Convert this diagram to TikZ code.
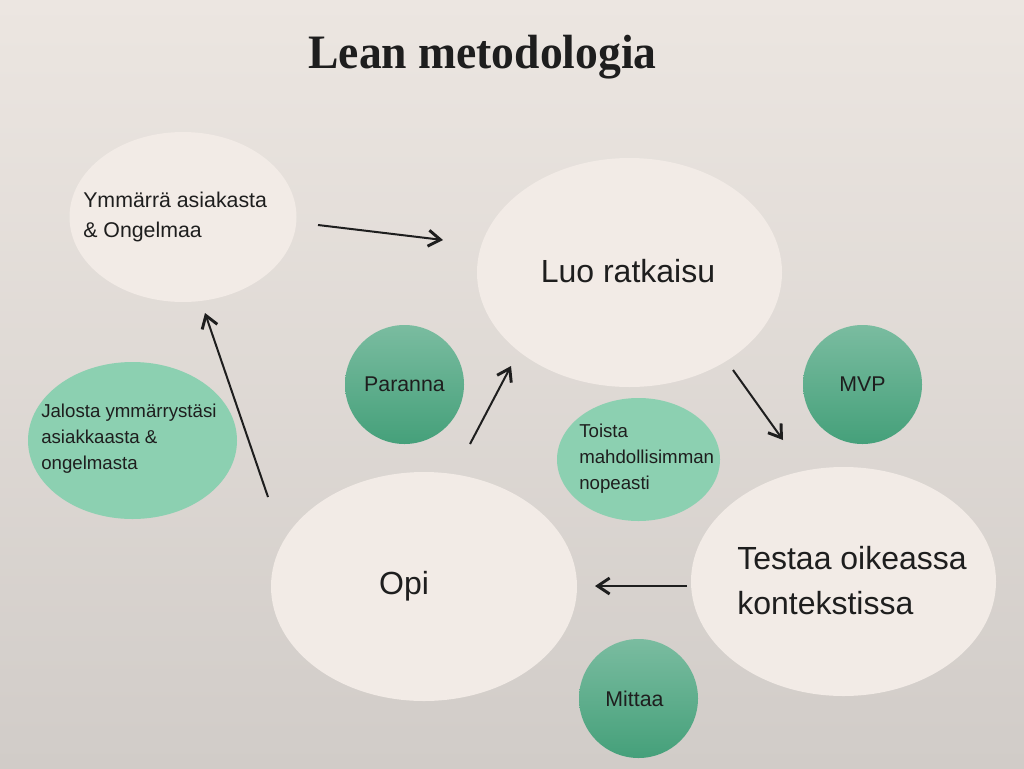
\documentclass[tikz,border=0pt]{standalone}
\usepackage{graphicx}
\usepackage{fontspec}
\setmainfont{Liberation Sans}
\newfontfamily\titlefont{Liberation Serif}
\usetikzlibrary{shapes.geometric,arrows.meta}
\definecolor{bgtop}{HTML}{ECE6E1}
\definecolor{bgbot}{HTML}{D1CCC8}
\definecolor{cream}{HTML}{F2EBE6}
\definecolor{mint}{HTML}{8CD0B1}
\definecolor{greentop}{HTML}{7ABCA0}
\definecolor{greenbot}{HTML}{45A07A}
\definecolor{ink}{HTML}{1E1E1E}
\tikzset{
  bubble/.style={ellipse, fill=cream, inner sep=0pt},
  mintbubble/.style={ellipse, fill=mint, inner sep=0pt},
  dot/.style={circle, top color=greentop, bottom color=greenbot, minimum size=89.25pt, inner sep=0pt, text=ink, font=\fontsize{16}{20}\selectfont},
  words/.style={inner sep=0pt, text=ink, align=left},
  flow/.style={-{Straight Barb[length=9pt,width=12pt,line width=2.2pt]}, line width=1.5pt, ink},
}
\begin{document}
\begin{tikzpicture}[x=0.75pt, y=-0.75pt]
    \fill[top color=bgtop, bottom color=bgbot] (0,0) rectangle (1024,768);

    \node[anchor=base, text=ink, font=\titlefont\bfseries\fontsize{36}{40}\selectfont] (title) at (482.5,68) {\scalebox{0.95}[1]{Lean metodologia}};

    \node[bubble, minimum width=170.25pt, minimum height=127.5pt] (ymm) at (183,217) {};
    \node[bubble, minimum width=228.75pt, minimum height=171.75pt] (luo) at (629.5,272.5) {};
    \node[bubble, minimum width=229.5pt, minimum height=171.75pt] (opi) at (424,586.5) {};
    \node[bubble, minimum width=228.75pt, minimum height=171.75pt] (testaa) at (843.5,581.5) {};
    \node[mintbubble, minimum width=122.25pt, minimum height=92.25pt] (toista) at (638.5,459.5) {};
    \node[mintbubble, minimum width=156.75pt, minimum height=117.75pt] (jalosta) at (132.5,440.5) {};

    \node[dot] (paranna) at (404.5,384.5) {Paranna};
    \node[dot] (mvp) at (862.5,384.5) {MVP};
    \node[dot] (mittaa) at (638.5,698.5) {\hspace*{-6pt}Mittaa};

    \node[words, anchor=west, font=\fontsize{16}{22}\selectfont] (ymmtext) at (83,217) {Ymmärrä asiakasta\\\& Ongelmaa};
    \node[words, font=\fontsize{24}{34}\selectfont] (luotext) at (628,271) {Luo ratkaisu};
    \node[words, font=\fontsize{24}{34}\selectfont] (opitext) at (404,586) {Opi};
    \node[words, anchor=west, font=\fontsize{24}{34}\selectfont] (testaatext) at (737,580.5) {Testaa oikeassa\\kontekstissa};
    \node[words, anchor=west, font=\fontsize{14}{19.5}\selectfont] (toistatext) at (579,459) {Toista\\mahdollisimman\\nopeasti};
    \node[words, anchor=west, font=\fontsize{14}{19.5}\selectfont] (jalostatext) at (41,438.5) {Jalosta ymmärrystäsi\\asiakkaasta \&\\ongelmasta};

    \coordinate (a1) at (318,225);
    \coordinate (a2) at (443,240);
    \coordinate (b1) at (268,497);
    \coordinate (b2) at (205,313);
    \coordinate (c1) at (470,444);
    \coordinate (c2) at (511,366);
    \coordinate (d1) at (733,370);
    \coordinate (d2) at (783,440);
    \coordinate (e1) at (687,586);
    \coordinate (e2) at (595,586);

    \draw[flow] (a1) -- (a2);
    \draw[flow] (b1) -- (b2);
    \draw[flow] (c1) -- (c2);
    \draw[flow] (d1) -- (d2);
    \draw[flow] (e1) -- (e2);
\end{tikzpicture}
\end{document}
